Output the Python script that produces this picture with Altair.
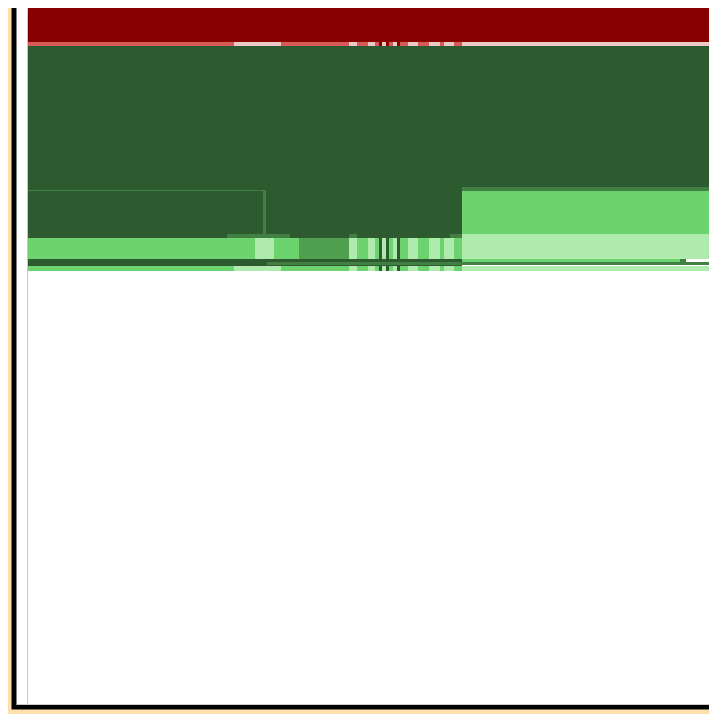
import altair as alt
import pandas as pd

# Block extents (start/end along x, top/bottom along y) and a colour class per block
x_start = [28, 28, 234, 281, 349, 357, 368, 375, 379, 382, 386, 389, 393, 397, 400, 408, 418, 429, 440, 444, 454, 462,
           28, 462, 462, 28, 263,
           227, 349, 450,
           28, 255, 274, 299, 349, 357, 368, 375, 379, 382, 386, 389, 393, 397, 400, 408, 418, 429, 440, 444, 454, 462,
           28, 462, 680, 267,
           28, 234, 281, 349, 357, 368, 375, 379, 382, 386, 389, 393, 397, 400, 408, 418, 429, 440, 444, 454, 462]
x_end = [720, 234, 281, 349, 357, 368, 375, 379, 382, 386, 389, 393, 397, 400, 408, 418, 429, 440, 444, 454, 462, 720,
         720, 720, 720, 263, 266,
         290, 357, 462,
         255, 274, 299, 349, 357, 368, 375, 379, 382, 386, 389, 393, 397, 400, 408, 418, 429, 440, 444, 454, 462, 720,
         462, 680, 686, 714,
         234, 281, 349, 357, 368, 375, 379, 382, 386, 389, 393, 397, 400, 408, 418, 429, 440, 444, 454, 462, 720]
y_top = [0] + [42] * 21 + [46, 187, 191, 190, 190, 234, 234, 234] + [238] * 21 + [234] + [259, 259, 259, 262] + [266] * 21
y_bottom = [42] + [46] * 21 + [238, 191, 234, 191, 238, 238, 238, 238] + [259] * 22 + [266, 262, 262, 265] + [271] * 21
tone = (["red_dark"]
        + ["red_mid", "red_light", "red_mid", "red_light", "red_mid", "red_light", "red_mid", "red_dark", "red_light",
           "red_dark", "red_mid", "red_light", "red_dark", "red_mid", "red_light", "red_mid", "red_light", "red_mid",
           "red_light", "red_mid", "red_light"]
        + ["green_dark", "green_mid", "green_light", "green_mid", "green_mid",
           "green_mid", "green_mid", "green_mid"]
        + ["green_light", "green_pale", "green_light", "green_med", "green_pale", "green_light", "green_pale",
           "green_light", "green_dark", "green_pale", "green_dark", "green_light", "green_pale", "green_dark",
           "green_light", "green_pale", "green_light", "green_pale", "green_light", "green_pale", "green_light",
           "green_pale"]
        + ["green_dark", "green_light", "green_mid", "green_mid"]
        + ["green_light", "green_pale", "green_light", "green_pale", "green_light", "green_pale", "green_light",
           "green_dark", "green_pale", "green_dark", "green_light", "green_pale", "green_dark", "green_light",
           "green_pale", "green_light", "green_pale", "green_light", "green_pale", "green_light", "green_pale"])

tone_names = ["red_dark", "red_mid", "red_light", "green_dark", "green_mid", "green_med", "green_light", "green_pale"]
tone_colors = ["#860000", "#d65a57", "#edc8c6", "#2d5a2e", "#427f43", "#50a050", "#6dd36f", "#aeebad"]

df = pd.DataFrame({"x0": x_start, "x1": x_end, "y0": y_top, "y1": y_bottom, "tone": tone})

PAD_L, PAD_T, PAD_B = 8, 0, 10
W = 701 - PAD_L
H = 704 - 8

frame = alt.Chart(pd.DataFrame({"a": [0]})).mark_rect(
    fill="white", stroke="black", strokeWidth=5
).encode(x=alt.value(-2), x2=alt.value(W + 40), y=alt.value(-10), y2=alt.value(H + 3))

xs = alt.Scale(domain=[16, 16 + W], nice=False, zero=False)
ys = alt.Scale(domain=[704, 8], nice=False, zero=False)

blocks = alt.Chart(df).mark_rect().encode(
    x=alt.X("x0:Q", scale=xs, axis=alt.Axis(labels=False, ticks=False, grid=False, title=None,
                                           domainColor="#c9c9c9", zindex=1)),
    x2="x1:Q",
    y=alt.Y("y0:Q", scale=ys, axis=alt.Axis(labels=False, ticks=False, grid=False, title=None,
                                           domainColor="#c9c9c9", offset=-11, zindex=1)),
    y2="y1:Q",
    color=alt.Color("tone:N", scale=alt.Scale(domain=tone_names, range=tone_colors), legend=None),
)

chart = alt.layer(frame, blocks).properties(
    width=W, height=H, background="#FFDEAD",
    padding={"left": PAD_L, "top": PAD_T, "right": 0, "bottom": PAD_B},
    autosize=alt.AutoSizeParams(type="none"),
).configure_view(stroke=None)

chart.save("out.html", embed_options={"renderer": "svg", "actions": False})
